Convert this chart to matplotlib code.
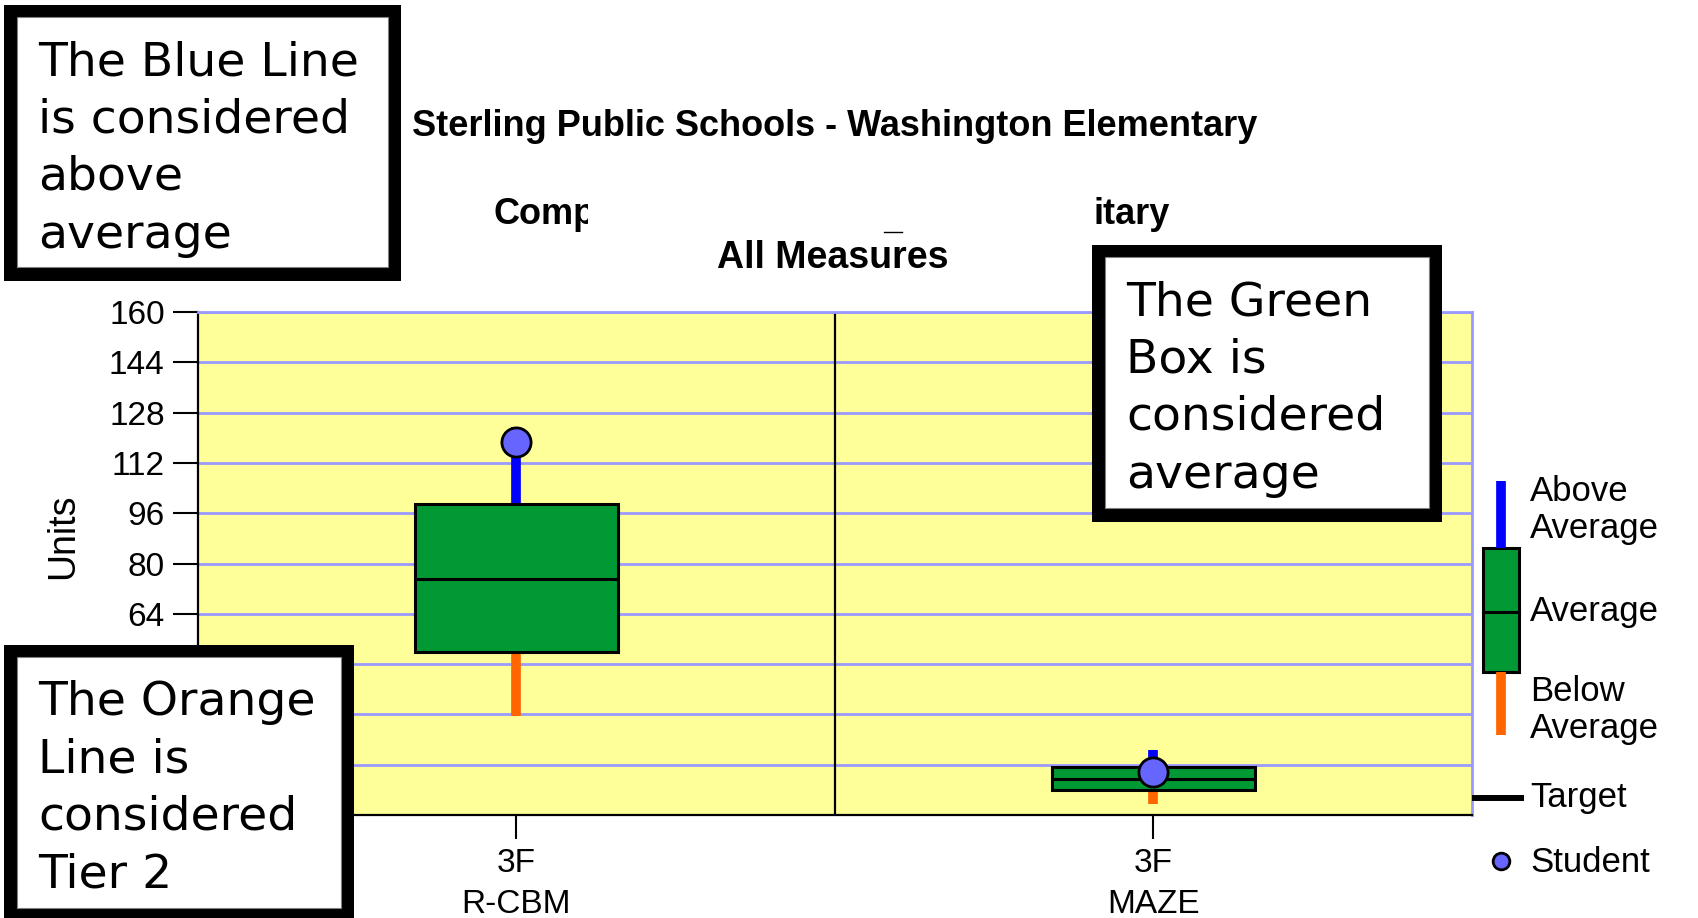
import numpy as np
import matplotlib.pyplot as plt
from matplotlib.patches import Rectangle

plt.rcParams['font.family'] = ['Liberation Sans', 'DejaVu Sans']

# values (Units)
categories = ['3F\nR-CBM', '3F\nMAZE']
below_low = [31.5, 3.6]     # bottom of orange line
box_low = [52, 7.8]
box_mid = [75, 11.3]
box_high = [99, 15.2]
above_high = [123.5, 20.6]  # top of blue line
student = [118.8, 13.6]
y_ticks = list(range(0, 161, 16))
# the lower labels sit under the note box in the picture
y_labels = ['', '', '', '', '64', '80', '96', '112', '128', '144', '160']

legend_names = ['Above\nAverage', 'Average', 'Below\nAverage', 'Target', 'Student']

notes = [
    ['The Blue Line', 'is considered', 'above', 'average'],
    ['The Green', 'Box is', 'considered', 'average'],
    ['The Orange', 'Line is', 'considered', 'Tier 2'],
]

BLUE = '#0000ff'
ORANGE = '#ff6600'
GREEN = '#009933'
DOT = '#6666ff'
GRID = '#9999ff'

W, H = 1699, 918
fig = plt.figure(figsize=(W / 100, H / 100), dpi=100)
ax = fig.add_axes([198 / W, 1 - 815 / H, (1472 - 198) / W, (815 - 312) / H])
ax.set_facecolor('#ffff99')
ax.set_xlim(-0.5, 1.5)
ax.set_ylim(0, 160)
ax.set_yticks(y_ticks)
ax.set_yticklabels(y_labels)
x = np.arange(len(categories))
ax.set_xticks(x)
ax.set_xticklabels(categories, fontsize=24, linespacing=1.4)
ax.tick_params(axis='y', labelsize=24, length=18, width=1.5, pad=6)
ax.tick_params(axis='x', length=17, width=1.5, pad=7)
ax.grid(axis='y', color=GRID, lw=2)
ax.set_axisbelow(True)
for s in ['top', 'right']:
    ax.spines[s].set_color(GRID)
    ax.spines[s].set_linewidth(2)
for s in ['left', 'bottom']:
    ax.spines[s].set_linewidth(1.6)
ax.axvline(0.5, color='black', lw=1.6)

bw = 0.32
ax.vlines(x, box_high, above_high, color=BLUE, lw=7, zorder=3)
ax.vlines(x, below_low, box_low, color=ORANGE, lw=7, zorder=3)
ax.bar(x, np.subtract(box_high, box_low), bottom=box_low, width=bw,
       color=GREEN, edgecolor='black', lw=2.2, zorder=4)
ax.hlines(box_mid, x - bw / 2, x + bw / 2, color='black', lw=2.2, zorder=5)
ax.plot(x, student, 'o', ms=21, mfc=DOT, mec='black', mew=2, zorder=6)

# overlay in pixel units for titles, legend and the note boxes
ov = fig.add_axes([0, 0, 1, 1], zorder=5)
ov.set_xlim(0, W)
ov.set_ylim(H, 0)
ov.axis('off')

ov.text(835, 127, 'Sterling Public Schools - Washington Elementary', ha='center',
        va='center', fontsize=26, fontweight='bold')
ov.text(494, 215, 'Comp', ha='left', va='center', fontsize=26, fontweight='bold')
ov.add_patch(Rectangle((588, 195), 120, 40, fc='white', ec='none', zorder=4))
ov.text(1094, 215, 'itary', ha='left', va='center', fontsize=26, fontweight='bold')
ov.plot([884, 902], [232, 232], color='black', lw=1)
ov.text(833, 258, 'All Measures', ha='center', va='center', fontsize=27, fontweight='bold')
ov.text(63, 536, 'Units', rotation=90, ha='center', va='center', fontsize=27)

# legend
lx = 1501
ov.plot([lx, lx], [481, 548], color=BLUE, lw=7, solid_capstyle='butt')
ov.plot([lx, lx], [672, 735], color=ORANGE, lw=7, solid_capstyle='butt')
ov.add_patch(Rectangle((1483, 548), 36, 124, fc=GREEN, ec='black', lw=2.2))
ov.plot([1483, 1519], [612, 612], color='black', lw=2.2)
ov.plot([1472, 1524], [798, 798], color='black', lw=4.3, solid_capstyle='butt')
ov.plot([lx], [861], 'o', ms=12, mfc=DOT, mec='black', mew=2)
leg_y = [510, 612, 710, 798, 862]
for name, yc in zip(legend_names, leg_y):
    parts = name.split('\n')
    for i, p in enumerate(parts):
        ov.text(1530, yc + (i - (len(parts) - 1) / 2) * 37, p, ha='left',
                va='center', fontsize=25)

# note boxes
boxes = [(4, 4, 401, 280), (1092, 244, 1442, 521), (4, 644, 354, 921)]
for (x0, y0, x1, y1), lines in zip(boxes, notes):
    ov.add_patch(Rectangle((x0 + 6.5, y0 + 6.5), x1 - x0 - 13, y1 - y0 - 13,
                           fc='white', ec='black', lw=13 * 0.72, zorder=6))
    ov.add_patch(Rectangle((x0 + 13, y0 + 13), x1 - x0 - 26, y1 - y0 - 26,
                           fc='none', ec='#808080', lw=0.8, zorder=7))
    for i, line in enumerate(lines):
        ov.text(x0 + 34, y0 + 71 + i * 57.5, line, fontsize=34,
                family='DejaVu Sans', va='baseline', zorder=8)

fig.savefig('out.png', dpi=100)
